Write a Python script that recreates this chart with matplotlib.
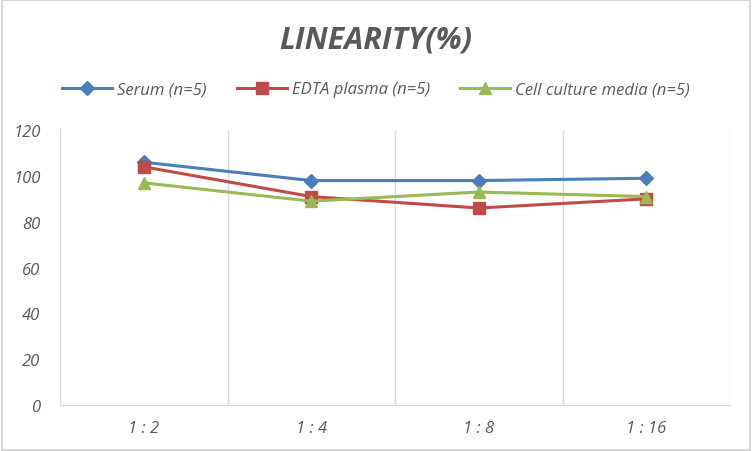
import numpy as np
import matplotlib.pyplot as plt
from matplotlib.patches import Rectangle

categories = ["1:2", "1:4", "1:8", "1:16"]
serum = [106, 98, 98, 99]
edta = [104, 91, 86, 90]
cell = [97, 89, 93, 91]
labels = ["Serum (n=5)", "EDTA plasma (n=5)", "Cell culture media (n=5)"]

plt.rcParams['font.family'] = ['Open Sans', 'DejaVu Sans']

fig = plt.figure(figsize=(7.52, 4.52), dpi=100)
ax = fig.add_axes([0.0798, 0.1018, 0.891, 0.608])

x = np.arange(len(categories))
ax.plot(x, serum, color="#4A7EBB", lw=2.2, marker="D", ms=7, label=labels[0])
ax.plot(x, edta, color="#BE4B48", lw=2.2, marker="s", ms=9, label=labels[1])
ax.plot(x, cell, color="#98B954", lw=2.2, marker="^", ms=9, label=labels[2])

ax.set_xlim(-0.5, 3.5)
ax.set_ylim(0, 120)
ax.set_yticks(range(0, 121, 20))
ax.set_xticks(x)
ax.set_xticklabels([c.replace(":", " : ") for c in categories])
ax.set_xticks(np.arange(-0.5, 3.6, 1), minor=True)
ax.grid(True, which="minor", axis="x", color="#D9D9D9", lw=1)
ax.tick_params(which="both", length=0)
ax.tick_params(axis="both", labelsize=12, labelcolor="#595959")
ax.tick_params(axis="x", pad=11)
ax.tick_params(axis="y", pad=14)
for lab in ax.get_xticklabels() + ax.get_yticklabels():
    lab.set_style("italic")
for s in ["top", "right", "left"]:
    ax.spines[s].set_visible(False)
ax.spines["bottom"].set_color("#D9D9D9")

fig.text(0.5, 0.91, "LINEARITY(%)", ha="center", va="center", fontsize=22,
         fontweight="bold", style="italic", color="#595959")
fig.legend(loc="center", bbox_to_anchor=(0.5, 0.8), ncol=3, frameon=False,
           prop={"size": 12, "style": "italic"}, labelcolor="#595959",
           handlelength=3, columnspacing=1.8, handletextpad=0.3)

fig.patches.append(Rectangle((0.002, 0.003), 0.995, 0.994, transform=fig.transFigure,
                             fill=False, edgecolor="#D9D9D9", lw=1.5))

fig.savefig("out.png", dpi=100)
